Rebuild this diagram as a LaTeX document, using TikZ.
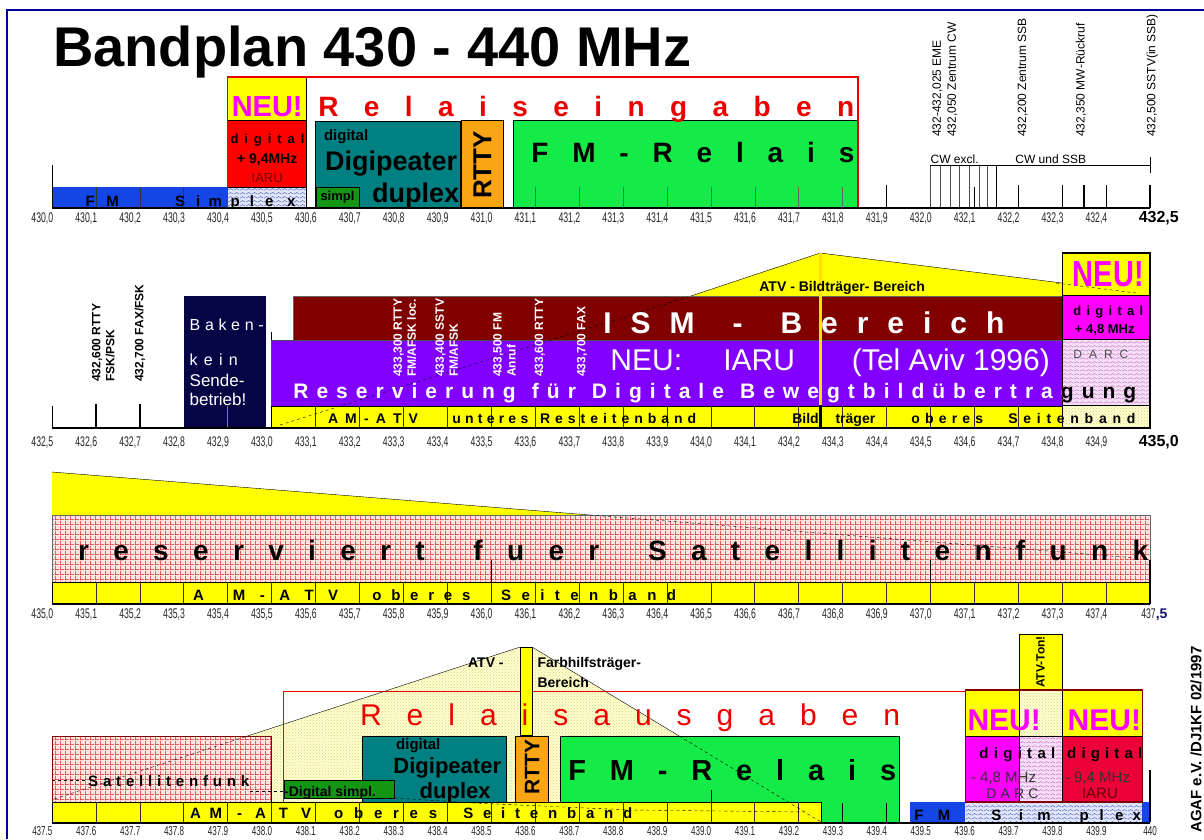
\documentclass[tikz,border=0pt]{standalone}
\usepackage{fontspec}
\setmainfont{Liberation Sans}
\usetikzlibrary{patterns}
\definecolor{framenavy}{RGB}{0,0,150}
\definecolor{fmblue}{RGB}{20,70,230}
\definecolor{neuyellow}{RGB}{255,255,0}
\definecolor{neumagenta}{RGB}{255,0,255}
\definecolor{digred}{RGB}{255,0,0}
\definecolor{iarured}{RGB}{235,0,55}
\definecolor{relred}{RGB}{235,0,0}
\definecolor{digiteal}{RGB}{0,128,128}
\definecolor{simplgreen}{RGB}{20,150,20}
\definecolor{rttyorange}{RGB}{250,165,20}
\definecolor{fmgreen}{RGB}{20,235,70}
\definecolor{bakennavy}{RGB}{5,5,70}
\definecolor{ismmaroon}{RGB}{128,0,0}
\definecolor{atvpurple}{RGB}{130,0,255}
\definecolor{bildgold}{RGB}{255,225,0}
\definecolor{barcream}{RGB}{255,255,205}
\definecolor{atvdots}{RGB}{215,210,140}
\definecolor{satpink}{RGB}{255,228,228}
\definecolor{satgrid}{RGB}{215,30,30}
\definecolor{simplexfill}{RGB}{225,230,248}
\definecolor{simplexline}{RGB}{70,90,200}
\definecolor{darcfill}{RGB}{245,225,245}
\definecolor{darcline}{RGB}{200,90,200}
\definecolor{labelnavy}{RGB}{20,20,110}

% hatchings
\pgfdeclarepatternformonly{satgridpat}{\pgfpointorigin}{\pgfpoint{5pt}{5pt}}{\pgfpoint{5pt}{5pt}}{%
  \pgfsetlinewidth{0.6pt}%
  \pgfpathmoveto{\pgfpoint{0pt}{0.3pt}}\pgfpathlineto{\pgfpoint{5pt}{0.3pt}}%
  \pgfpathmoveto{\pgfpoint{0.3pt}{0pt}}\pgfpathlineto{\pgfpoint{0.3pt}{5pt}}%
  \pgfusepath{stroke}}
\pgfdeclarepatternformonly{zigzagpat}{\pgfpointorigin}{\pgfpoint{6pt}{4pt}}{\pgfpoint{6pt}{4pt}}{%
  \pgfsetlinewidth{0.5pt}%
  \pgfpathmoveto{\pgfpoint{0pt}{1pt}}\pgfpathlineto{\pgfpoint{3pt}{3pt}}\pgfpathlineto{\pgfpoint{6pt}{1pt}}%
  \pgfusepath{stroke}}

\newcommand{\fsz}[1]{\fontsize{#1}{#1}\selectfont}
\newcommand{\spread}[2]{\makebox[#1][s]{#2}}
\newcommand{\squeeze}[1]{\scalebox{0.62}[1]{#1}}
\newcommand{\bewegt}{\spread{843pt}{R e s e r v i e r u n g\ \ f ü r\ \ D i g i t a l e\ \ B e w e g t b i l d ü b e r t r a g u n g}}
\pgfkeys{/pgf/number format/.cd, fixed, fixed zerofill, precision=1, assume math mode=true}

\tikzset{
  txt/.style={inner sep=0pt},
  lbl/.style={inner sep=0pt, anchor=north, font=\fsz{14}, text=black!85},
  endlbl/.style={inner sep=0pt, anchor=north, font=\bfseries\fsz{16}},
  bartxt/.style={inner sep=0pt, anchor=base west, font=\bfseries\fsz{14}},
  boxline/.style={draw=black, line width=0.6pt},
  divider/.style={black!80, line width=0.6pt},
  axisline/.style={line width=1.6pt},
  vlabel/.style={inner sep=0pt, anchor=west, rotate=90, align=left},
  neu/.style={inner sep=0pt, text=neumagenta, font=\bfseries\fsz{29}},
}

\begin{document}
\begin{tikzpicture}[x=1pt,y=-1pt]
\useasboundingbox (0,0) rectangle (1204,839);
\fill[white] (0,0) rectangle (1204,839);
\draw[framenavy, line width=1.5pt] (7,839) -- (7,10) -- (1204,10);
\node[txt, anchor=base west, font=\bfseries\fsz{56}] (title) at (53,66) {Bandplan 430 - 440 MHz};

% ---------------- 430,0 - 432,5
\begin{scope}[xshift=52pt, x=43.92pt]
  \fill[fmblue] (0,187) rectangle (4,208);
  \foreach \u in {1,2,3} \draw[divider] (\u,187) -- (\u,208);
  \draw[line width=1pt] (0,165) -- (0,208);
  \fill[neuyellow] (4,77) rectangle (5.8,120);
  \fill[digred] (4,120) rectangle (5.8,187);
  \fill[simplexfill] (4,187) rectangle (5.8,208);
  \fill[pattern=zigzagpat, pattern color=simplexline] (4,187) rectangle (5.8,208);
  \draw[boxline] (4,120) -- (5.8,120) (4,187) -- (5.8,187);
  \draw[line width=1.2pt] (5.8,77) -- (5.8,208);
  \filldraw[fill=digiteal, boxline] (6,121) rectangle (9.3,208);
  \filldraw[fill=simplgreen, boxline] (6.02,187) rectangle (7,207);
  \filldraw[fill=rttyorange, boxline] (9.32,120) rectangle (10.28,208);
  \filldraw[fill=fmgreen, boxline] (10.5,120) rectangle (18.35,208);
  \foreach \u in {11,...,18} \draw[black!60, thin] (\u,187) -- (\u,208);
  \draw[relred, line width=1.3pt] (4,77) rectangle (18.35,208);
  % CW / SSB
  \foreach \u in {20,20.22,20.44,20.66,20.88,21.1,21.3} \draw[black!70, thin] (\u,165) -- (\u,208);
  \draw[line width=1.2pt] (21.5,165) -- (21.5,208);
  \draw[thin] (21,187) -- (21,208);
  \draw[line width=0.8pt] (20,165) -- (25,165) (25,157) -- (25,173);
  \foreach \u in {19,22,23,24} \draw[line width=0.9pt] (\u,185) -- (\u,208);
  \draw[line width=1.4pt] (23.5,185) -- (23.5,208) (25,185) -- (25,208);
  \draw[axisline] (0,208) -- (25,208);

  \node[txt, anchor=base, neu] (neu1) at (4.9,116) {NEU!};
  \node[txt, anchor=base west, font=\bfseries\fsz{28}, text=relred] (relein) at (6.06,116) {\spread{536pt}{R e l a i s e i n g a b e n}};
  \node[txt, anchor=base west, font=\bfseries\fsz{13}] (dig1) at (4.06,143) {\spread{74pt}{d i g i t a l}};
  \node[txt, anchor=base, font=\bfseries\fsz{14}] (mhz1) at (4.9,163) {+ 9,4MHz};
  \node[txt, anchor=base, font=\fsz{13}, text=red!45!black] (iaru1) at (4.9,182) {IARU};
  \foreach \c/\u [count=\k] in {F/0.87, M/1.38, S/2.92, i/3.33, m/3.72, p/4.17, l/4.55, e/4.95, x/5.45}
    \node[txt, anchor=base, font=\bfseries\fsz{15}] (sx\k) at (\u,206) {\c};
  \node[txt, anchor=base west, font=\bfseries\fsz{15}] (digit1) at (6.19,140) {digital};
  \node[txt, anchor=base, font=\bfseries\fsz{27}] (digi1) at (7.72,170) {Digipeater};
  \node[txt, anchor=base, font=\bfseries\fsz{27}] (dup1) at (8.28,202) {duplex};
  \node[txt, font=\bfseries\fsz{13}] (simpl1) at (6.5,197) {simpl};
  \node[txt, rotate=90, font=\bfseries\fsz{26}] (rtty1) at (9.8,165) {RTTY};
  \node[txt, anchor=base west, font=\bfseries\fsz{28}] (fm1) at (10.91,162) {\spread{323pt}{F M - R e l a i s}};
  \node[txt, anchor=base west, font=\fsz{12}] (cwexcl) at (20,163) {CW excl.};
  \node[txt, anchor=base west, font=\fsz{12}] (cwssb) at (21.93,163) {CW und SSB};
  \node[vlabel, font=\fontsize{12}{15}\selectfont] (eme) at (20.33,137) {432-432,025 EME\\432,050 Zentrum CW};
  \node[vlabel, font=\fsz{12}] (ssb200) at (22.1,137) {432,200 Zentrum SSB};
  \node[vlabel, font=\fsz{12}] (mw350) at (23.43,137) {432,350 MW-Rückruf};
  \node[vlabel, font=\fsz{12}] (sstv500) at (25.05,137) {432,500 SSTV(in SSB)};
  \foreach \i in {0,...,24}{
    \pgfmathsetmacro\freq{430+0.1*\i}
    \node[lbl] (la\i) at (\i-0.22,213) {\squeeze{\pgfmathprintnumber[use comma]{\freq}}};
  }
  \node[endlbl] (la25) at (25.2,211) {432,5};
\end{scope}

% ---------------- 432,5 - 435,0
\begin{scope}[xshift=52pt, x=43.92pt]
  \draw[line width=1pt] (0,406) -- (0,428);
  \draw[line width=1.4pt] (1,404) -- (1,428) (2,404) -- (2,428);
  \fill[bakennavy] (3,296) rectangle (4.87,428);
  \draw[black!50] (4,406) -- (4,428);
  \fill[neuyellow] (14.48,297) -- (17.49,253) -- (23,283) -- (23,297) -- cycle;
  \draw[thin] (14.48,297) -- (17.49,253) -- (23,283);
  \filldraw[fill=ismmaroon, draw=black!60] (5.5,296) rectangle (23,340);
  \filldraw[fill=atvpurple, draw=black!70] (5,340) rectangle (23,406);
  \draw[thin] (5,332) -- (5,340);
  \filldraw[fill=neuyellow, boxline] (5,406) rectangle (23,428);
  \foreach \u in {6,...,22} \draw[divider] (\u,406) -- (\u,428);
  \draw[dashed, thin] (5.19,425) -- (14.48,297);
  \draw[bildgold, line width=3pt] (17.49,253) -- (17.49,405);
  \draw[line width=3pt] (17.49,405) -- (17.49,428);
  \fill[neuyellow] (23,253) rectangle (25,295);
  \fill[neumagenta] (23,295) rectangle (25,339);
  \fill[darcfill] (23,339) rectangle (25,405);
  \fill[pattern=zigzagpat, pattern color=darcline] (23,339) rectangle (25,405);
  \fill[barcream] (23,405) rectangle (25,428);
  \fill[pattern=crosshatch dots, pattern color=atvdots] (23,405) rectangle (25,428);
  \draw[thin] (23,295) -- (25,295) (23,339) -- (25,339) (23,405) -- (25,405);
  \draw[line width=1.2pt] (23,253) rectangle (25,428);
  \draw[dashed, thin] (22.86,283) -- (24.68,293);
  \draw[axisline] (0,428) -- (25,428);

  \node[vlabel, font=\bfseries\fontsize{12}{14}\selectfont] (rtty600) at (1.17,382) {432,600 RTTY\\FSK/PSK};
  \node[vlabel, font=\bfseries\fsz{12}] (fax700) at (2,382) {432,700 FAX/FSK};
  \node[txt, anchor=base west, text=white, font=\fsz{16}] (baken) at (3.13,330) {\spread{74pt}{B a k e n -}};
  \node[txt, anchor=base west, text=white, font=\fsz{16}] (kein) at (3.13,365) {\spread{48pt}{k e i n}};
  \node[txt, anchor=base west, text=white, font=\fsz{17}] (sende) at (3.13,386) {Sende-};
  \node[txt, anchor=base west, text=white, font=\fsz{17}] (betrieb) at (3.13,405) {betrieb!};
  \node[vlabel, text=white, font=\bfseries\fontsize{12}{14}\selectfont] (ism300) at (8.03,377) {433,300 RTTY\\FM/AFSK loc.};
  \node[vlabel, text=white, font=\bfseries\fontsize{12}{14}\selectfont] (ism400) at (8.99,377) {433,400 SSTV\\FM/AFSK};
  \node[vlabel, text=white, font=\bfseries\fontsize{12}{14}\selectfont] (ism500) at (10.3,377) {433,500 FM\\Anruf};
  \node[vlabel, text=white, font=\bfseries\fsz{12}] (ism600) at (11.11,377) {433,600 RTTY};
  \node[vlabel, text=white, font=\bfseries\fsz{12}] (ism700) at (12.07,377) {433,700 FAX};
  \node[txt, anchor=base west, text=white, font=\bfseries\fsz{30}] (ism) at (12.55,333) {\spread{401pt}{I S M\ \ -\ \ B e r e i c h}};
  \node[txt, anchor=base west, text=white, font=\fsz{30}] (neuiaru) at (12.71,370) {NEU:};
  \node[txt, anchor=base west, text=white, font=\fsz{30}] (iaru2) at (15.28,370) {IARU};
  \node[txt, anchor=base west, text=white, font=\fsz{30}] (telaviv) at (18.21,370) {(Tel Aviv 1996)};
  \begin{scope}
    \clip (5,370) rectangle (23,406);
    \node[txt, anchor=base west, text=white, font=\bfseries\fsz{21}] (reserv) at (5.49,398) {\bewegt};
  \end{scope}
  \begin{scope}
    \clip (23,370) rectangle (25,406);
    \node[txt, anchor=base west, font=\bfseries\fsz{21}] (reservb) at (5.49,398) {\bewegt};
  \end{scope}
  \node[bartxt] (amatv2) at (6.28,423) {\spread{90pt}{A M - A T V}};
  \node[bartxt] (unteres) at (9.11,423) {\spread{76pt}{u n t e r e s}};
  \node[bartxt] (restband) at (11.11,423) {\spread{156pt}{R e s t e i t e n b a n d}};
  \node[bartxt] (bildtr) at (16.85,423) {\spread{83pt}{Bild träger}};
  \node[bartxt] (oberes2) at (19.56,423) {\spread{72pt}{o b e r e s}};
  \node[bartxt] (seitb2) at (21.77,423) {\spread{127pt}{S e i t e n b a n d}};
  \node[txt, font=\bfseries\fsz{14}] (atvbild) at (17.99,288) {ATV - Bildträger- Bereich};
  \node[txt, anchor=base, neu] (neu2) at (24.05,286) {\scalebox{1}[1.25]{NEU!}};
  \node[txt, anchor=base west, font=\bfseries\fsz{13}] (dig2) at (23.25,315) {\spread{70pt}{d i g i t a l}};
  \node[txt, anchor=base, font=\bfseries\fsz{13}] (mhz2) at (23.97,333) {+ 4,8 MHz};
  \node[txt, anchor=base west, font=\fsz{12}, text=black!70] (darc2) at (23.25,358) {\spread{55pt}{D A R C}};
  \foreach \i in {0,...,24}{
    \pgfmathsetmacro\freq{432.5+0.1*\i}
    \node[lbl] (lb\i) at (\i-0.22,437) {\squeeze{\pgfmathprintnumber[use comma]{\freq}}};
  }
  \node[endlbl] (lb25) at (25.2,435) {435,0};
\end{scope}

% ---------------- 435,0 - 437,5
\begin{scope}[xshift=52pt, x=43.92pt]
  \fill[neuyellow] (0,515) -- (0,472) -- (12.25,515) -- cycle;
  \draw[thin] (0,472) -- (12.25,515);
  \fill[satpink] (0,515) rectangle (25,582);
  \fill[pattern=satgridpat, pattern color=satgrid] (0,515) rectangle (25,582);
  \draw[black!60] (0,515) rectangle (25,582);
  \draw[dashed, thin] (12.25,515) -- (24.7,558);
  \draw[thin] (10,560) -- (10,582) (20,560) -- (20,582);
  \filldraw[fill=neuyellow, boxline] (0,582) rectangle (25,603);
  \foreach \u in {1,...,24} \draw[divider] (\u,582) -- (\u,603);
  \draw[line width=1.2pt] (25,560) -- (25,603);
  \draw[axisline] (0,604) -- (25,604);

  \node[txt, anchor=base west, font=\bfseries\fsz{28}] (satres) at (0.59,560) {\spread{1070pt}{r e s e r v i e r t\ \ f u e r\ \ S a t e l l i t e n f u n k}};
  \node[bartxt, font=\bfseries\fsz{15}] (amatv3) at (3.21,600) {\spread{145pt}{A\ \ M - A T V}};
  \node[bartxt, font=\bfseries\fsz{15}] (oberes3) at (7.29,600) {\spread{98pt}{o b e r e s}};
  \node[bartxt, font=\bfseries\fsz{15}] (seitb3) at (10.22,600) {\spread{175pt}{S e i t e n b a n d}};
  \foreach \i in {0,...,24}{
    \pgfmathsetmacro\freq{435+0.1*\i}
    \node[lbl] (lc\i) at (\i-0.22,609) {\squeeze{\pgfmathprintnumber[use comma]{\freq}}};
  }
  \node[lbl] (lc25) at (25.1,609) {\squeeze{437}\textbf{\textcolor{labelnavy}{,5}}};
\end{scope}

% ---------------- 437,5 - 440
\begin{scope}[xshift=52pt, x=43.92pt]
  \fill[barcream] (0.05,799) -- (10.66,647) -- (10.93,647) -- (17.51,822) -- (0.05,822) -- cycle;
  \fill[pattern=crosshatch dots, pattern color=atvdots] (0.05,799) -- (10.66,647) -- (10.93,647) -- (17.51,822) -- (0.05,822) -- cycle;
  \draw[relred, line width=0.8pt] (5.26,691) rectangle (20.79,823);
  \fill[satpink] (0,736) rectangle (5,802);
  \fill[pattern=satgridpat, pattern color=satgrid] (0,736) rectangle (5,802);
  \draw[ismmaroon] (0,736) rectangle (5,802);
  \draw[line width=1.2pt] (5,780) -- (5,822);
  \filldraw[fill=digiteal, boxline] (7.06,736) rectangle (10.34,802);
  \filldraw[fill=simplgreen, boxline] (5.28,780) rectangle (7.8,798);
  \filldraw[fill=rttyorange, boxline] (10.55,736) rectangle (11.3,802);
  \filldraw[fill=neuyellow, boxline] (10.66,647) rectangle (10.93,735);
  \filldraw[fill=fmgreen, boxline] (11.57,736) rectangle (19.3,822);
  \draw[thin] (15,790) -- (15,822) (18,803) -- (18,822) (19,803) -- (19,822);
  \filldraw[fill=neuyellow, boxline] (0,802) rectangle (17.51,822);
  \foreach \u in {1,...,17} \draw[divider] (\u,802) -- (\u,822);
  \fill[fmblue] (19.53,802) rectangle (25,822);
  \fill[simplexfill] (20.79,802) rectangle (24.82,822);
  \fill[pattern=zigzagpat, pattern color=simplexline] (20.79,802) rectangle (24.82,822);
  % NEU group
  \filldraw[fill=neuyellow, boxline] (22.02,634) rectangle (23,690);
  \fill[neuyellow] (20.79,690) rectangle (24.82,736);
  \fill[barcream] (22.02,690) rectangle (23,736);
  \fill[pattern=crosshatch dots, pattern color=atvdots] (22.02,690) rectangle (23,736);
  \fill[neumagenta] (20.79,736) rectangle (22.02,802);
  \fill[darcfill] (22.02,736) rectangle (23,802);
  \fill[pattern=zigzagpat, pattern color=darcline] (22.02,736) rectangle (23,802);
  \fill[iarured] (23,736) rectangle (24.82,802);
  \draw[boxline] (22.02,690) rectangle (23,802);
  \draw[boxline] (20.79,736) -- (24.82,736) (23,690) -- (23,802) (20.79,802) -- (24.82,802);
  \draw[ismmaroon, line width=1.2pt] (20.79,690) rectangle (24.82,802);
  \draw[line width=1.2pt] (25,770) -- (25,822);
  % ATV Farbhilfstraeger
  \draw[thin] (4.45,736) -- (10.66,647);
  \draw[thin, dashed] (0.05,799) -- (4.45,736);
  \draw[thin] (10.93,647) -- (14.28,736);
  \draw[thin, dashed] (14.28,736) -- (17.51,822);
  \draw[thin, dashed] (0,780) -- (0.8,780);
  \draw[thin, dashed] (4.5,791) -- (5.28,791);
  \draw[thin, dashed] (7.8,798) -- (9.6,803) -- (13.2,810) -- (17.2,812);
  \draw[axisline] (0,823) -- (25,823);

  \node[txt, anchor=base west, font=\fsz{30}, text=relred] (relaus) at (7.01,725) {\spread{540pt}{R e l a i s a u s g a b e n}};
  \node[txt, anchor=base west, font=\bfseries\fsz{14}] (atvfarb) at (9.47,667) {ATV -};
  \node[txt, anchor=base west, font=\bfseries\fontsize{14}{20}\selectfont, align=left] (farb) at (11.05,687) {Farbhilfsträger-\\Bereich};
  \node[txt, anchor=base west, font=\bfseries\fsz{15}] (satf4) at (0.82,786) {\spread{161pt}{S a t e l l i t e n f u n k}};
  \node[txt, anchor=base west, font=\bfseries\fsz{14}] (digsimpl) at (5.28,796) {-Digital simpl.};
  \node[txt, anchor=base, font=\bfseries\fsz{15}] (digit4) at (8.34,749) {digital};
  \node[txt, anchor=base, font=\bfseries\fsz{22}] (digi4) at (9.0,773) {Digipeater};
  \node[txt, anchor=base, font=\bfseries\fsz{22}] (dup4) at (9.18,798) {duplex};
  \node[txt, rotate=90, font=\bfseries\fsz{21}] (rtty4) at (10.93,767) {RTTY};
  \node[txt, anchor=base west, font=\bfseries\fsz{29}] (fm4) at (11.75,780) {\spread{328pt}{F M - R e l a i s}};
  \node[bartxt, font=\bfseries\fsz{15}] (am4) at (3.14,818) {\spread{32pt}{A M}};
  \node[bartxt, font=\bfseries\fsz{15}] (atv4) at (4.21,818) {\spread{74pt}{- A T V}};
  \node[bartxt, font=\bfseries\fsz{15}] (oberes4) at (6.42,818) {\spread{103pt}{o b e r e s}};
  \node[bartxt, font=\bfseries\fsz{15}] (seitb4) at (9.36,818) {\spread{169pt}{S e i t e n b a n d}};
  \foreach \c/\u [count=\k] in {F/19.74, M/20.31, S/21.5, i/22.06, m/22.59, p/23.5, l/23.9, e/24.3, x/24.7}
    \node[txt, anchor=base, font=\bfseries\fsz{15}] (sy\k) at (\u,820) {\c};
  \node[vlabel, font=\bfseries\fsz{12}] (atvton) at (22.51,688) {ATV-Ton!};
  \node[txt, anchor=base, neu, font=\bfseries\fsz{30}] (neu4a) at (21.68,730) {NEU!};
  \node[txt, anchor=base, neu, font=\bfseries\fsz{30}] (neu4b) at (23.96,730) {NEU!};
  \node[txt, anchor=base west, font=\bfseries\fsz{15}] (dig4a) at (21.11,758) {\spread{76pt}{d i g i t a l}};
  \node[txt, anchor=base west, font=\bfseries\fsz{15}] (dig4b) at (23.11,758) {\spread{75pt}{d i g i t a l}};
  \node[txt, anchor=base west, font=\fsz{15}, text=black!80] (mhz4a) at (20.92,782) {- 4,8 MHz};
  \node[txt, anchor=base west, font=\fsz{15}, text=black!80] (mhz4b) at (23.06,782) {- 9,4 MHz};
  \node[txt, anchor=base west, font=\fsz{14}, text=black!80] (darc4) at (21.27,798) {\spread{52pt}{D A R C}};
  \node[txt, anchor=base, font=\fsz{15}, text=red!40!black] (iaru4) at (23.86,798) {IARU};
  \foreach \i in {0,...,24}{
    \pgfmathsetmacro\freq{437.5+0.1*\i}
    \node[lbl, font=\fsz{13}] (ld\i) at (\i-0.22,826) {\squeeze{\pgfmathprintnumber{\freq}}};
  }
  \node[lbl, font=\fsz{13}] (ld25) at (25,826) {\squeeze{440}};
\end{scope}

\node[vlabel, font=\bfseries\fsz{15}] (agaf) at (1196,833) {AGAF e.V. /DJ1KF 02/1997};
\end{tikzpicture}
\end{document}
